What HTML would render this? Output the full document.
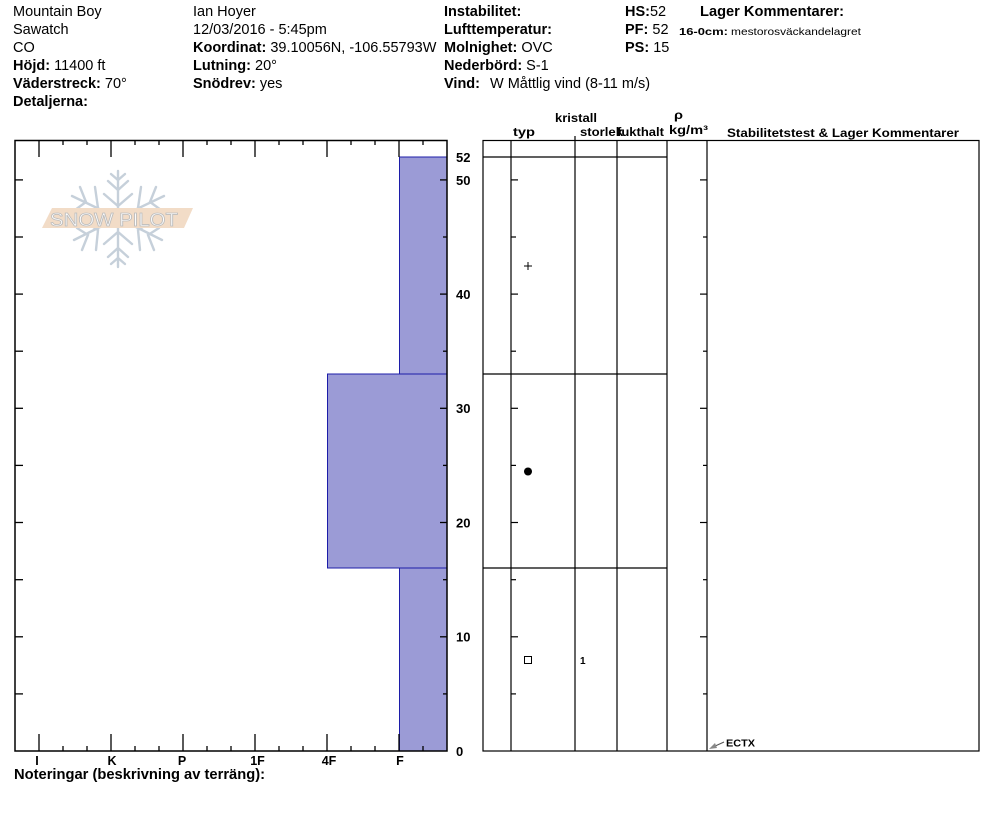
<!DOCTYPE html>
<html><head><meta charset="utf-8"><style>
html,body{margin:0;padding:0;background:#fff;}
svg{display:block;font-family:"Liberation Sans",Arial,sans-serif;}
.n{font-size:14.5px;fill:#000;}
.b{font-size:14.5px;font-weight:bold;fill:#000;}
.ax{font-size:13px;font-weight:bold;fill:#000;}
.h{font-size:12px;font-weight:bold;fill:#000;}
</style></head><body>
<svg width="994" height="840" viewBox="0 0 994 840" xmlns="http://www.w3.org/2000/svg">
<rect width="994" height="840" fill="#fff"/>
<!-- Header col1 -->
<text class="n" x="13" y="16">Mountain Boy</text>
<text class="n" x="13" y="34">Sawatch</text>
<text class="n" x="13" y="52">CO</text>
<text class="n" x="13" y="70"><tspan font-weight="bold">Höjd:</tspan> 11400 ft</text>
<text class="n" x="13" y="88"><tspan font-weight="bold">Väderstreck:</tspan> 70°</text>
<text class="b" x="13" y="106">Detaljerna:</text>
<!-- col2 -->
<text class="n" x="193" y="16">Ian Hoyer</text>
<text class="n" x="193" y="34">12/03/2016 - 5:45pm</text>
<text class="n" x="193" y="52"><tspan font-weight="bold">Koordinat:</tspan> 39.10056N, -106.55793W</text>
<text class="n" x="193" y="70"><tspan font-weight="bold">Lutning:</tspan> 20°</text>
<text class="n" x="193" y="88"><tspan font-weight="bold">Snödrev:</tspan> yes</text>
<!-- col3 -->
<text class="b" x="444" y="16">Instabilitet:</text>
<text class="b" x="444" y="34">Lufttemperatur:</text>
<text class="n" x="444" y="52"><tspan font-weight="bold">Molnighet:</tspan> OVC</text>
<text class="n" x="444" y="70"><tspan font-weight="bold">Nederbörd:</tspan> S-1</text>
<text class="b" x="444" y="88">Vind:</text>
<text class="n" x="490" y="88">W Måttlig vind (8-11 m/s)</text>
<!-- col4 -->
<text class="n" x="625" y="16"><tspan font-weight="bold">HS:</tspan>52</text>
<text class="n" x="625" y="34"><tspan font-weight="bold">PF:</tspan> 52</text>
<text class="n" x="625" y="52"><tspan font-weight="bold">PS:</tspan> 15</text>
<text class="b" x="700" y="16" textLength="144" lengthAdjust="spacingAndGlyphs">Lager Kommentarer:</text>
<text x="679" y="35" font-size="10.5" font-weight="bold" textLength="49" lengthAdjust="spacingAndGlyphs">16-0cm:</text>
<text x="731" y="35" font-size="10.5" textLength="130" lengthAdjust="spacingAndGlyphs">mestorosväckandelagret</text>

<!-- Logo -->
<g stroke="#c6d0da" stroke-width="2.4" fill="none" stroke-linecap="round">
  <line x1="118" y1="218" x2="118" y2="171"/>
  <line x1="118" y1="218" x2="118" y2="267"/>
  <line x1="118" y1="218" x2="72" y2="196"/>
  <line x1="118" y1="218" x2="164" y2="196"/>
  <line x1="118" y1="218" x2="74" y2="240"/>
  <line x1="118" y1="218" x2="162" y2="240"/>
  <polyline points="108,181 118,190 128,181"/>
  <polyline points="104,194 118,206 132,194"/>
  <polyline points="111,174 118,180 125,174"/>
  <polyline points="108,257 118,248 128,257"/>
  <polyline points="104,244 118,232 132,244"/>
  <polyline points="111,264 118,258 125,264"/>
  <polyline points="80,187 86,202 75,210"/>
  <polyline points="95,187 98,208 88,214"/>
  <polyline points="156,187 150,202 161,210"/>
  <polyline points="141,187 138,208 148,214"/>
  <polyline points="82,250 88,235 77,228"/>
  <polyline points="96,250 98,230 88,224"/>
  <polyline points="154,250 148,235 159,228"/>
  <polyline points="140,250 138,230 148,224"/>
</g>
<polygon points="52,208 193,208 184,228 42,228" fill="#f2dcc7"/>
<text x="50" y="226" font-size="18" fill="#ffffff" stroke="#bdbdbd" stroke-width="0.8" textLength="128" lengthAdjust="spacingAndGlyphs">SNOW PILOT</text>

<!-- Left plot bars -->
<g fill="#9b9bd6" stroke="#1c1ca8" stroke-width="1">
  <rect x="399.5" y="157" width="47.5" height="217"/>
  <rect x="327.5" y="374" width="119.5" height="194"/>
  <rect x="399.5" y="568" width="47.5" height="183"/>
</g>
<!-- Left frame -->
<rect x="15" y="140.5" width="432" height="610.5" fill="none" stroke="#000" stroke-width="1.5"/>
<g stroke="#000" stroke-width="1.3">
  <line x1="39" y1="140" x2="39" y2="157"/>
  <line x1="63" y1="140" x2="63" y2="145"/>
  <line x1="87" y1="140" x2="87" y2="145"/>
  <line x1="111" y1="140" x2="111" y2="157"/>
  <line x1="135" y1="140" x2="135" y2="145"/>
  <line x1="159" y1="140" x2="159" y2="145"/>
  <line x1="183" y1="140" x2="183" y2="157"/>
  <line x1="207" y1="140" x2="207" y2="145"/>
  <line x1="231" y1="140" x2="231" y2="145"/>
  <line x1="255" y1="140" x2="255" y2="157"/>
  <line x1="279" y1="140" x2="279" y2="145"/>
  <line x1="303" y1="140" x2="303" y2="145"/>
  <line x1="327" y1="140" x2="327" y2="157"/>
  <line x1="351" y1="140" x2="351" y2="145"/>
  <line x1="375" y1="140" x2="375" y2="145"/>
  <line x1="399" y1="140" x2="399" y2="157"/>
  <line x1="423" y1="140" x2="423" y2="145"/>
  <line x1="39" y1="751" x2="39" y2="734"/>
  <line x1="63" y1="751" x2="63" y2="746"/>
  <line x1="87" y1="751" x2="87" y2="746"/>
  <line x1="111" y1="751" x2="111" y2="734"/>
  <line x1="135" y1="751" x2="135" y2="746"/>
  <line x1="159" y1="751" x2="159" y2="746"/>
  <line x1="183" y1="751" x2="183" y2="734"/>
  <line x1="207" y1="751" x2="207" y2="746"/>
  <line x1="231" y1="751" x2="231" y2="746"/>
  <line x1="255" y1="751" x2="255" y2="734"/>
  <line x1="279" y1="751" x2="279" y2="746"/>
  <line x1="303" y1="751" x2="303" y2="746"/>
  <line x1="327" y1="751" x2="327" y2="734"/>
  <line x1="351" y1="751" x2="351" y2="746"/>
  <line x1="375" y1="751" x2="375" y2="746"/>
  <line x1="399" y1="751" x2="399" y2="734"/>
  <line x1="423" y1="751" x2="423" y2="746"/>
  <line x1="15" y1="693.9" x2="23" y2="693.9"/>
  <line x1="15" y1="636.8" x2="23" y2="636.8"/>
  <line x1="15" y1="579.7" x2="23" y2="579.7"/>
  <line x1="15" y1="522.5" x2="23" y2="522.5"/>
  <line x1="15" y1="465.4" x2="23" y2="465.4"/>
  <line x1="15" y1="408.3" x2="23" y2="408.3"/>
  <line x1="15" y1="351.2" x2="23" y2="351.2"/>
  <line x1="15" y1="294.1" x2="23" y2="294.1"/>
  <line x1="15" y1="237" x2="23" y2="237"/>
  <line x1="15" y1="179.9" x2="23" y2="179.9"/>
  <line x1="447" y1="693.9" x2="443" y2="693.9"/>
  <line x1="447" y1="636.8" x2="440" y2="636.8"/>
  <line x1="447" y1="579.7" x2="443" y2="579.7"/>
  <line x1="447" y1="522.5" x2="440" y2="522.5"/>
  <line x1="447" y1="465.4" x2="443" y2="465.4"/>
  <line x1="447" y1="408.3" x2="440" y2="408.3"/>
  <line x1="447" y1="351.2" x2="443" y2="351.2"/>
  <line x1="447" y1="294.1" x2="440" y2="294.1"/>
  <line x1="447" y1="237" x2="443" y2="237"/>
  <line x1="447" y1="179.9" x2="440" y2="179.9"/>
</g>
<!-- y labels -->
<text class="ax" x="456" y="162">52</text>
<text class="ax" x="456" y="185">50</text>
<text class="ax" x="456" y="299">40</text>
<text class="ax" x="456" y="413">30</text>
<text class="ax" x="456" y="527.5">20</text>
<text class="ax" x="456" y="641.5">10</text>
<text class="ax" x="456" y="756">0</text>
<!-- x labels -->
<g font-size="12.5" font-weight="bold" text-anchor="middle">
  <text x="37" y="765">I</text>
  <text x="112" y="765">K</text>
  <text x="182" y="765">P</text>
  <text x="257.5" y="765">1F</text>
  <text x="329" y="765">4F</text>
  <text x="400" y="765">F</text>
</g>
<text x="14" y="779" font-size="14.5" font-weight="bold" textLength="251" lengthAdjust="spacingAndGlyphs">Noteringar (beskrivning av terräng):</text>

<!-- Right plot headers -->
<text class="h" x="555" y="122" textLength="42" lengthAdjust="spacingAndGlyphs">kristall</text>
<text class="h" x="513" y="136" textLength="22" lengthAdjust="spacingAndGlyphs">typ</text>
<text class="h" x="580" y="136" textLength="43" lengthAdjust="spacingAndGlyphs">storlek</text>
<text class="h" x="617" y="136" textLength="47" lengthAdjust="spacingAndGlyphs">fukthalt</text>
<text class="h" x="674" y="119" textLength="9" lengthAdjust="spacingAndGlyphs">ρ</text>
<text class="h" x="669" y="134" textLength="39" lengthAdjust="spacingAndGlyphs">kg/m³</text>
<text class="h" x="727" y="137" textLength="232" lengthAdjust="spacingAndGlyphs">Stabilitetstest &amp; Lager Kommentarer</text>

<!-- Right plot frame -->
<g stroke="#000" stroke-width="1.2" fill="none">
  <rect x="483" y="140.5" width="496" height="610.5"/>
  <line x1="511" y1="140.5" x2="511" y2="751"/>
  <line x1="575" y1="136" x2="575" y2="751"/>
  <line x1="617" y1="140.5" x2="617" y2="751"/>
  <line x1="667" y1="140.5" x2="667" y2="751"/>
  <line x1="707" y1="140.5" x2="707" y2="751"/>
  <line x1="483" y1="157" x2="667" y2="157"/>
  <line x1="483" y1="374" x2="667" y2="374"/>
  <line x1="483" y1="568" x2="667" y2="568"/>
  <line x1="511" y1="693.9" x2="516" y2="693.9"/>
  <line x1="511" y1="636.8" x2="518" y2="636.8"/>
  <line x1="511" y1="579.7" x2="516" y2="579.7"/>
  <line x1="511" y1="522.5" x2="518" y2="522.5"/>
  <line x1="511" y1="465.4" x2="516" y2="465.4"/>
  <line x1="511" y1="408.3" x2="518" y2="408.3"/>
  <line x1="511" y1="351.2" x2="516" y2="351.2"/>
  <line x1="511" y1="294.1" x2="518" y2="294.1"/>
  <line x1="511" y1="237" x2="516" y2="237"/>
  <line x1="511" y1="179.9" x2="518" y2="179.9"/>
  <line x1="707" y1="693.9" x2="703" y2="693.9"/>
  <line x1="707" y1="636.8" x2="700" y2="636.8"/>
  <line x1="707" y1="579.7" x2="703" y2="579.7"/>
  <line x1="707" y1="522.5" x2="700" y2="522.5"/>
  <line x1="707" y1="465.4" x2="703" y2="465.4"/>
  <line x1="707" y1="408.3" x2="700" y2="408.3"/>
  <line x1="707" y1="351.2" x2="703" y2="351.2"/>
  <line x1="707" y1="294.1" x2="700" y2="294.1"/>
  <line x1="707" y1="237" x2="703" y2="237"/>
  <line x1="707" y1="179.9" x2="700" y2="179.9"/>
</g>
<!-- symbols -->
<g stroke="#000" stroke-width="1" fill="none">
  <line x1="524" y1="266" x2="532" y2="266"/>
  <line x1="528" y1="262" x2="528" y2="270"/>
  <rect x="524.5" y="656.5" width="7" height="7"/>
</g>
<circle cx="528" cy="471.5" r="4" fill="#000"/>
<text x="580" y="664" font-size="10" font-weight="bold">1</text>
<!-- ECTX -->
<line x1="713" y1="747" x2="724" y2="742" stroke="#555" stroke-width="1"/>
<polygon points="709,749 715,743 717,748" fill="#888"/>
<text x="726" y="746.5" font-size="10" font-weight="bold" textLength="29" lengthAdjust="spacingAndGlyphs">ECTX</text>
</svg>
</body></html>
